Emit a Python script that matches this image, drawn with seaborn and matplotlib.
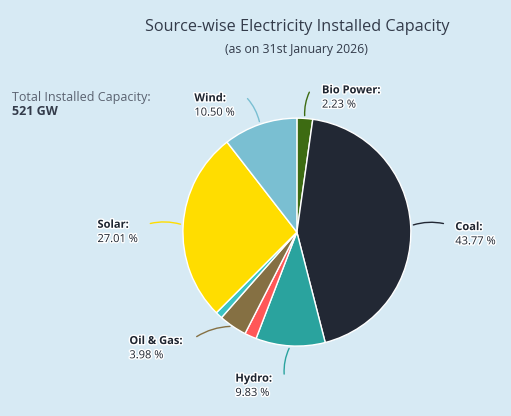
import numpy as np
import matplotlib
matplotlib.use("Agg")
import matplotlib.pyplot as plt
import matplotlib.patheffects as pe
import seaborn as sns

# --- data ---
sources = ["Bio Power", "Coal", "Hydro", "Nuclear", "Oil & Gas", "Small Hydro", "Solar", "Wind"]
shares = [2.23, 43.77, 9.83, 1.69, 3.98, 0.99, 27.01, 10.50]
colors = ["#3d6b12", "#222834", "#2aa39e", "#ff5757", "#857043", "#3cc3c3", "#ffdd00", "#7abfd2"]
labelled = ["Bio Power", "Coal", "Hydro", "Oil & Gas", "Solar", "Wind"]

title = "Source-wise Electricity Installed Capacity"
subtitle = "(as on 31st January 2026)"
total_label = "Total Installed Capacity:"
total_value = "521 GW"

# label placement (pie units): connector end, text left edge, text top line y
label_pos = {
    "Bio Power": ((0.12, 1.25), 0.22, 1.24),
    "Wind": ((-0.45, 1.19), -0.90, 1.17),
    "Coal": ((1.31, 0.07), 1.39, 0.04),
    "Solar": ((-1.31, 0.07), -1.75, 0.06),
    "Oil & Gas": ((-0.90, -0.93), -1.47, -0.96),
    "Hydro": ((-0.11, -1.27), -0.54, -1.29),
}

bg = "#d7eaf4"
sns.set_theme(style="white")
plt.rcParams["font.family"] = ["Open Sans", "DejaVu Sans"]

fig = plt.figure(figsize=(5.11, 4.16), dpi=100, facecolor=bg)
ax = fig.add_axes([0.358, 0.168, 0.446, 0.548])
ax.set_facecolor(bg)

wedges, _ = ax.pie(shares, colors=colors, startangle=90, counterclock=False,
                   radius=1, wedgeprops=dict(edgecolor="white", linewidth=1))
ax.set_xlim(-1.0, 1.0)
ax.set_ylim(-1.0, 1.0)
ax.set_aspect("equal")
ax.axis("off")

halo = [pe.withStroke(linewidth=2, foreground="white")]
for w, name, val, col in zip(wedges, sources, shares, colors):
    if name not in labelled:
        continue
    mid = np.deg2rad((w.theta1 + w.theta2) / 2)
    start = (np.cos(mid), np.sin(mid))
    end, tx, ty = label_pos[name]
    rad = 0.15 if end[0] > start[0] else -0.15
    ax.annotate("", xy=start, xytext=end, annotation_clip=False,
                arrowprops=dict(arrowstyle="-", color=col, lw=1,
                                connectionstyle=f"arc3,rad={rad}"))
    ax.text(tx, ty, f"{name}:", fontsize=8, fontweight="bold", color="#1e2530",
            va="center", ha="left", path_effects=halo)
    ax.text(tx, ty - 0.125, f"{val:.2f} %", fontsize=8, color="#1e2530",
            va="center", ha="left", path_effects=halo)

fig.text(0.581, 0.935, title, ha="center", va="center", fontsize=11.7, color="#333b4a")
fig.text(0.581, 0.88, subtitle, ha="center", va="center", fontsize=8.8, color="#333b4a")
fig.text(0.023, 0.765, total_label, ha="left", va="center", fontsize=9, color="#5a6270")
fig.text(0.023, 0.733, total_value, ha="left", va="center", fontsize=9,
         fontweight="bold", color="#333b4a")

fig.savefig("out.png", dpi=100, facecolor=bg)
